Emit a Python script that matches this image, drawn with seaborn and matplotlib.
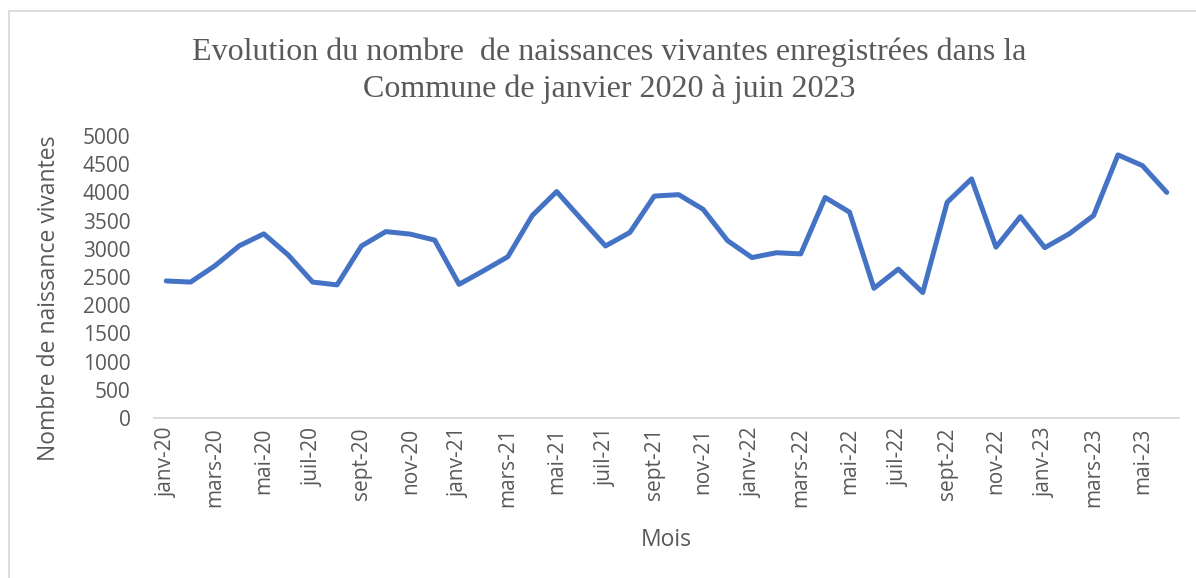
import numpy as np
import pandas as pd
import matplotlib
matplotlib.use("Agg")
import matplotlib.pyplot as plt
import seaborn as sns
from matplotlib.lines import Line2D

# ---- données ----
mois_fr = ["janv", "févr", "mars", "avr", "mai", "juin",
           "juil", "août", "sept", "oct", "nov", "déc"]
annees = ["20", "21", "22", "23"]
mois = [f"{m}-{a}" for a in annees for m in mois_fr][:42]

naissances = [2430, 2410, 2700, 3055, 3265, 2890, 2410, 2360, 3050, 3305,
              3260, 3155, 2370, 2610, 2860, 3590, 4015, 3530, 3050, 3290,
              3935, 3960, 3700, 3145, 2845, 2930, 2910, 3910, 3650, 2300,
              2640, 2225, 3825, 4240, 3030, 3570, 3020, 3265, 3590, 4665,
              4475, 4000]

titre = "Evolution du nombre  de naissances vivantes enregistrées dans la\nCommune de janvier 2020 à juin 2023"
label_x = "Mois"
label_y = "Nombre de naissance vivantes"

df = pd.DataFrame({"Mois": mois, "Naissances": naissances})

# ---- style ----
sns.set_style("white")
plt.rcParams["font.family"] = ["Open Sans", "DejaVu Sans"]
gris = "#595959"
bleu = "#4472C4"

W, H = 1196, 578
fig = plt.figure(figsize=(W / 100, H / 100), dpi=100)
ax = fig.add_axes([154 / W, 1 - 418 / H, (1179 - 154) / W, (418 - 136) / H])

sns.lineplot(data=df, x="Mois", y="Naissances", ax=ax, color=bleu,
             linewidth=3.6, sort=False)

n = len(mois)
ax.set_xlim(-0.5, n - 0.5)
ax.set_ylim(0, 5000)
ax.set_yticks(np.arange(0, 5001, 500))
ax.set_yticklabels([str(v) for v in range(0, 5001, 500)])

pos = list(range(0, n, 2))
ax.set_xticks(pos)
ax.set_xticklabels([mois[i] for i in pos], rotation=90, va="top", ha="center")
ax.set_xticks(np.arange(-0.5, n, 2), minor=True)

ax.tick_params(axis="x", which="major", length=0, pad=7, labelsize=15, labelcolor=gris)
ax.tick_params(axis="x", which="minor", length=6, width=1.3, color="#d9d9d9", direction="out")
ax.tick_params(axis="y", length=0, pad=17, labelsize=15, labelcolor=gris)

for s in ["top", "right", "left"]:
    ax.spines[s].set_visible(False)
ax.spines["bottom"].set_color("#d9d9d9")
ax.spines["bottom"].set_linewidth(1.3)

ax.set_xlabel("")
ax.set_ylabel("")
fig.text(666 / W, 1 - 540 / H, label_x, ha="center", va="center", fontsize=16.5, color=gris)
fig.text(49 / W, 1 - 298 / H, label_y, ha="center", va="center", rotation=90,
         fontsize=16.5, color=gris)
fig.text(609 / W, 1 - 71 / H, titre, ha="center", va="center", fontsize=23,
         color=gris, family=["Liberation Serif", "DejaVu Serif"], linespacing=1.32)

# bordure du cadre (gauche et haut)
fig.add_artist(Line2D([9 / W, 9 / W], [0, 1 - 11 / H], transform=fig.transFigure,
                      color="#d9d9d9", linewidth=1.3))
fig.add_artist(Line2D([9 / W, 1], [1 - 11 / H, 1 - 11 / H], transform=fig.transFigure,
                      color="#d9d9d9", linewidth=1.3))

fig.savefig("out.png", dpi=100, facecolor="white")
